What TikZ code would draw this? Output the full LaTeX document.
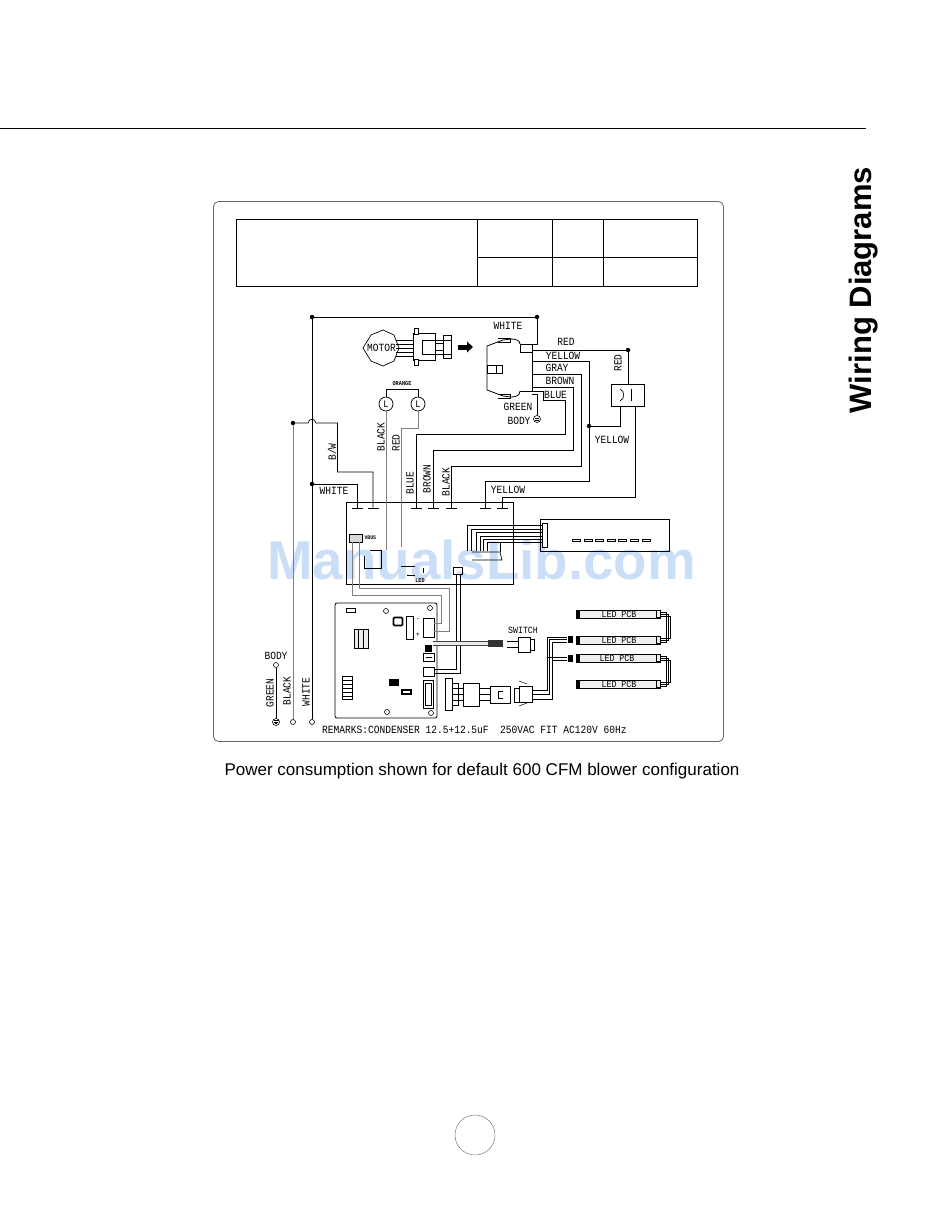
\documentclass[tikz,border=0pt]{standalone}
\usepackage{fontspec}
\setmainfont{Liberation Sans}
\setmonofont[FakeStretch=0.87]{Liberation Mono}
\usetikzlibrary{positioning}
\definecolor{markblue}{HTML}{CBDEF7}
\tikzset{
  wire/.style={line width=0.7pt,black},
  greywire/.style={line width=0.8pt,black!50},
  part/.style={draw=black,line width=0.7pt,fill=white,inner sep=0pt},
  term/.style={fill=black,inner sep=0pt,minimum width=11pt,minimum height=1.5pt},
  joint/.style={circle,fill=black,inner sep=0pt,minimum size=4.5pt},
  ring/.style={circle,draw=black,fill=white,line width=0.6pt,inner sep=0pt,minimum size=5pt},
  lamp/.style={circle,draw=black,fill=white,line width=0.7pt,inner sep=0pt,minimum size=14pt,font=\ttfamily\fontsize{10}{10}\selectfont},
  lbl/.style={font=\ttfamily\fontsize{11}{11}\selectfont,inner sep=0pt},
  vlbl/.style={lbl,rotate=90},
  small/.style={font=\ttfamily\fontsize{9.5}{10}\selectfont,inner sep=0pt},
  tiny/.style={font=\ttfamily\bfseries\fontsize{6}{6}\selectfont,inner sep=0pt}
}

\begin{document}
\begin{tikzpicture}[x=1pt,y=-1pt]
  \useasboundingbox (0,0) rectangle (950,1229);
  % page furniture
  \draw[line width=0.8pt] (0,128) -- (866,128);
  \node[rotate=90,font=\bfseries\fontsize{31}{31}\selectfont,inner sep=0pt] (heading) at (863.5,290) {Wiring Diagrams};
  \node[font=\fontsize{17}{18}\selectfont,inner sep=0pt] (caption) at (482,771.5) {Power consumption shown for default 600 CFM blower configuration};
  \node[circle,draw=black!60,minimum size=40pt,inner sep=0pt] (pageno) at (475,1135) {};
  \node[font=\bfseries\fontsize{54.7}{56}\selectfont,text=markblue,inner sep=0pt] (mark) at (481.5,560) {ManualsLib.com};
  \draw[black!60,line width=0.8pt,rounded corners=5pt] (213.5,201.5) rectangle (723.5,741.5);

  % title table
  \draw[line width=0.7pt] (236,219) rectangle (697,286);
  \draw[line width=0.7pt] (477,257) -- (697,257);
  \foreach \x in {477,552,603} {
    \draw[line width=0.7pt] (\x,219) -- (\x,286);
  }

  % main board and its terminals
  \draw[wire] (346,502) rectangle (513,584);
  \foreach \name/\x in {tWhite/357,tBW/373,tBlue/416,tBrown/433,tBlack/451,tYellowA/485,tYellowB/502} {
    \node[term] (\name) at (\x,508.5) {};
  }

  % joints and free ends
  \node[joint] (jTopL) at (312,317) {};
  \node[joint] (jTopR) at (537,317) {};
  \node[joint] (jWhite) at (312,484) {};
  \node[joint] (jBW) at (293,423) {};
  \node[joint] (jRed) at (628,350) {};
  \node[joint] (jYellow) at (589,426) {};
  \node[ring] (endWhite) at (312,722) {};
  \node[ring] (endBlack) at (293,722) {};
  \node[ring] (endBody) at (276,665) {};
  \node[ring,minimum size=7pt] (endEarth) at (276,722) {};
  \draw[line width=0.5pt] (273.5,720.5) -- (278.5,720.5) (274,722) -- (278,722) (275,723.5) -- (277,723.5);

  % motor
  \coordinate (motor) at (381.5,348);
  \draw[line width=0.7pt] (363,348) -- (371,335) -- (383,330) -- (394,335) -- (399,348) -- (394,361) -- (383,366) -- (371,361) -- cycle;
  \foreach \y in {340,344,348,352,356} {
    \draw[line width=0.6pt] (396,\y) -- (413,\y);
  }
  \node[lbl,fill=white,inner xsep=0.5pt] (motortxt) at (381.5,348) {MOTOR};
  \draw[part] (413,333) rectangle (435,360);
  \draw[part] (422,340) rectangle (435,354);
  \draw[part] (435,343) rectangle (443,350);
  \draw[part] (443,335) rectangle (451,358);
  \draw[line width=0.6pt] (435,340) -- (451,340) (435,354) -- (451,354);
  \draw[part] (414,328) rectangle (418,334) (414,359) rectangle (418,365);
  \fill (458,344.5) rectangle (467,349.5);
  \fill (467,341.5) -- (473,347) -- (467,352.5) -- cycle;

  % fan connector
  \draw[line width=0.8pt] (520,344) .. controls (520,340) and (515,339) .. (511,339) -- (503,340) -- (487,346) -- (487,390) -- (503,396) -- (511,397) .. controls (515,397) and (520,396) .. (520,391);
  \draw[line width=0.6pt] (498,338) -- (510,338) -- (510,342) -- (498,342) (498,398) -- (510,398) -- (510,394) -- (498,394);
  \draw[part] (487,365) rectangle (496,373);
  \draw[part] (496,365) rectangle (502,373);
  \draw[part] (520,344) rectangle (532,352);
  \draw[line width=0.8pt] (532,352) -- (532,391) (520,391) -- (532,391);
  \node[ring,minimum size=7pt] (earthFan) at (537,419) {};
  \draw[line width=0.5pt] (535,418) -- (539,418) (535,420) -- (539,420);

  % lamps
  \node[lamp] (lampL) at (386,404) {L};
  \node[lamp] (lampR) at (418,404) {L};
  \draw[wire] (lampL.north) -- (386,389) -- (418,389) -- (lampR.north);
  \node[tiny] (orange) at (402,384) {ORANGE};

  % capacitor
  \node[part,minimum width=33pt,minimum height=22pt] (cap) at (627.5,395) {};
  \draw[line width=0.7pt] (620,389) .. controls (625,391) and (625,399) .. (620,401);
  \draw[line width=0.8pt] (631,389) -- (631,401);

  % wiring above the board
  \draw[wire] (jTopL) -- (jTopR);
  \draw[wire] (jTopL) -- (endWhite);
  \draw[wire] (jTopR) -- (537,344) -- (532,344);
  \draw[wire] (jWhite) -- (357,484) -- (tWhite.north);
  \draw[greywire] (jBW) -- (endBlack);
  \draw[wire] (jBW) -- (308,423) .. controls (309,418) and (315,418) .. (316,423) -- (337.5,423) -- (337.5,472) -- (373,472) -- (tBW.north);
  \draw[wire] (532,350) -- (jRed);
  \draw[wire] (jRed) -- (cap.north -| jRed);
  \draw[wire] (532,361) -- (589,361) -- (jYellow);
  \draw[wire] (jYellow) -- (589,481) -- (485,481) -- (tYellowA.north);
  \draw[wire] (jYellow) -- (620,426) -- (620,406);
  \draw[wire] (635,406) -- (635,497) -- (502,497) -- (tYellowB.north);
  \draw[wire] (532,374) -- (581,374) -- (581,466) -- (451,466) -- (tBlack.north);
  \draw[wire] (532,387) -- (573,387) -- (573,450) -- (433,450) -- (tBrown.north);
  \draw[wire] (532,391) -- (543,391) -- (543,400) -- (565,400) -- (565,434) -- (416,434) -- (tBlue.north);
  \draw[wire] (532,394) -- (537,394) -- (earthFan.north);
  \draw[greywire] (lampL.south) -- (386,550);
  \draw[greywire] (lampR.south) -- (418,428) -- (401,428) -- (401,547);
  \draw[wire] (endBody) -- (endEarth);

  % inside the board
  \node[part,minimum width=13pt,minimum height=8pt,fill=black!15] (vbus) at (355.5,538) {};
  \node[tiny,font=\ttfamily\bfseries\fontsize{5.5}{6}\selectfont,right=2pt of vbus] (vbustxt) {VBUS};
  \draw[wire] (370,550) -- (381,550) -- (381,568) -- (364,568) (364,556) -- (364,568);
  \draw[wire] (401,566) -- (415,566) (407,575) -- (415,575) (423,568) -- (423,573);
  \node[tiny] (ledtxt) at (420,581) {LED};
  \node[part,minimum width=9pt,minimum height=7pt,fill=none] (ledplug) at (457.5,571) {};

  % ribbon to the display
  \draw[wire] (540.5,551.5) -- (540.5,519) -- (669,519) -- (669,551.5) -- (540.5,551.5);
  \node[part,minimum width=5pt,minimum height=24pt] (bar) at (545,535) {};
  \foreach \x/\y in {467/525,471.5/529,476/532,480/536,483/539,487/542} {
    \draw[line width=0.7pt] (bar.west |- 0,\y) -- (\x,\y) -- (\x,551);
  }
  \draw[wire] (472,552) -- (500,552) -- (502,560) -- (472,560);
  \draw[line width=0.7pt] (500,542) -- (500,552);
  \foreach \x in {572,584,595,607,618,630,642} {
    \draw[line width=0.9pt] (\x,539) rectangle +(8,2);
  }

  % control board
  \draw[line width=0.8pt,rounded corners=2pt,fill=white] (335,603) rectangle (437,718);
  \node[ring] (holeA) at (386,611) {};
  \node[ring] (holeB) at (430,608) {};
  \node[ring] (holeC) at (387,712) {};
  \node[ring] (holeD) at (431,713) {};
  \draw[part] (346,608) rectangle (355,612);
  \draw[part,fill=black!8] (354,629) rectangle (368,648);
  \draw[line width=0.8pt] (358,629) -- (358,648) (363,629) -- (363,648);
  \draw[part,line width=1.6pt,rounded corners=1pt] (393.5,617.5) rectangle (402.5,625.5);
  \draw[part] (406,616) rectangle (413,639);
  \node[tiny] (cminus) at (418,620) {-};
  \node[tiny] (cplus) at (418,635) {+};
  \node[part,minimum width=11pt,minimum height=19pt] (plugA) at (428.5,627.5) {};
  \node[part,minimum width=11pt,minimum height=9pt] (plugB) at (428.5,671.5) {};
  \node[part,minimum width=10pt,minimum height=28pt] (plugC) at (428,694) {};
  \draw[line width=0.5pt] (425,683) rectangle (431,705);
  \node[part,minimum width=11pt,minimum height=8pt,line width=1pt] (plugD) at (428.5,657) {};
  \draw[line width=0.7pt] (425.5,657) -- (431.5,657);
  \node[fill=black,minimum width=7pt,minimum height=7pt,inner sep=0pt] (plugE) at (428.5,648) {};
  \draw[part,line width=1pt] (342,676) rectangle (352,699);
  \foreach \y in {680,684,688,692,696} {
    \draw[line width=0.5pt] (342,\y) -- (352,\y);
  }
  \fill (389,679) rectangle (399,686);
  \draw[part,line width=1.2pt] (402,690) rectangle (411,694);

  % wires from the main board to the control board
  \draw[greywire] (352,542) -- (352,595) -- (441.5,595) -- (441.5,623) -- (plugA.east |- 0,623);
  \draw[greywire] (359,542) -- (359,588) -- (449,588) -- (449,631) -- (plugA.east |- 0,631);
  \draw[wire] (456.5,575) -- (456.5,669) -- (plugB.east |- 0,669);
  \draw[wire] (460,575) -- (460,673) -- (plugB.east |- 0,673);

  % switch
  \draw[line width=5pt,black!75] (433,643.5) -- (488,643.5);
  \draw[line width=3.4pt,black!8] (433,643.5) -- (488,643.5);
  \node[fill=black!80,minimum width=15pt,minimum height=7pt,inner sep=0pt] (swplug) at (495.5,643.5) {};
  \node[part,minimum width=12pt,minimum height=15pt] (switch) at (524,644.5) {};
  \draw[line width=0.7pt] (507,641) -- (518,641) (507,647) -- (518,647);
  \draw[part] (530,639) rectangle (534,650);
  \node[small] (swtxt) at (523,630) {SWITCH};

  % LED strips
  \foreach \name/\y/\x in {ledA/614/624,ledB/640/624,ledC/658/622,ledD/684/624} {
    \node[draw,line width=0.8pt,fill=black!6,minimum width=84pt,minimum height=8pt,inner sep=0pt] (\name) at (618,\y) {};
    \node[small] at (\x-5,\y) {LED PCB};
    \fill (576,\y-4) rectangle (580,\y+4);
    \draw[line width=1pt] (656,\y-3.5) rectangle (660,\y+3.5);
  }
  \foreach \d in {0,2,4} {
    \draw[line width=0.6pt] (ledA.east |- 0,612+\d) -- (666+\d,612+\d) -- (666+\d,642-\d) -- (ledB.east |- 0,642-\d);
    \draw[line width=0.6pt] (ledC.east |- 0,656+\d) -- (666+\d,656+\d) -- (666+\d,686-\d) -- (ledD.east |- 0,686-\d);
  }

  % lower plug chain
  \draw[part] (445,678) rectangle (452,710);
  \draw[part] (452,683) rectangle (458,705);
  \foreach \y in {688,694,700} {
    \draw[line width=0.6pt] (452,\y) -- (463,\y);
  }
  \node[part,minimum width=16pt,minimum height=23pt] (cond) at (471,694.5) {};
  \foreach \y in {688,694,700} {
    \draw[line width=0.6pt] (cond.east |- 0,\y) -- (490,\y);
  }
  \draw[part] (490,686) rectangle (510,703);
  \draw[line width=0.7pt] (503,691) -- (498,691) -- (498,698) -- (503,698);
  \draw[part] (514,688) rectangle (519,702);
  \draw[part] (519,686) rectangle (532,702);
  \draw[line width=0.5pt] (519,681) -- (527,684) (519,706) -- (527,703);
  \node[fill=black,minimum width=5pt,minimum height=7pt,inner sep=0pt] (ledplugA) at (570,639) {};
  \node[fill=black,minimum width=5pt,minimum height=7pt,inner sep=0pt] (ledplugB) at (570,658) {};
  \draw[line width=0.7pt] (532,690) -- (547,690) -- (547,637) -- (ledplugA.west |- 0,637);
  \draw[line width=0.7pt] (532,694) -- (549,694) -- (549,639) -- (ledplugA);
  \draw[line width=0.7pt] (532,699) -- (552,699) -- (552,642) -- (ledplugA.west |- 0,642);
  \draw[line width=1pt] (547,657) -- (ledplugB.west |- 0,657);
  \draw[line width=1pt] (552,660) -- (ledplugB.west |- 0,660);

  % labels
  \node[lbl] (lWhiteTop) at (508,326) {WHITE};
  \node[lbl] (lRedTop) at (566,342) {RED};
  \node[lbl] (lYellowTop) at (563,356) {YELLOW};
  \node[lbl] (lGray) at (557,368) {GRAY};
  \node[lbl] (lBrownTop) at (560,381) {BROWN};
  \node[lbl] (lBlueTop) at (555.5,395) {BLUE};
  \node[lbl] (lGreenFan) at (518,407) {GREEN};
  \node[lbl] (lBodyFan) at (519,421) {BODY};
  \node[lbl] (lYellowCap) at (612,440) {YELLOW};
  \node[vlbl] (lRedCap) at (618,363) {RED};
  \node[vlbl] (lBW) at (332,452) {B/W};
  \node[vlbl] (lBlackL) at (381,437) {BLACK};
  \node[vlbl] (lRedL) at (396,443) {RED};
  \node[vlbl] (lBlue) at (410,483) {BLUE};
  \node[vlbl] (lBrown) at (427,479) {BROWN};
  \node[vlbl] (lBlack) at (446,482) {BLACK};
  \node[lbl] (lWhite) at (334,491) {WHITE};
  \node[lbl] (lYellow) at (508,490) {YELLOW};
  \node[lbl] (lBody) at (276,656) {BODY};
  \node[vlbl] (lGreen) at (270,693) {GREEN};
  \node[vlbl] (lBlackEnd) at (287,691) {BLACK};
  \node[vlbl] (lWhiteEnd) at (306,692) {WHITE};
  \node[lbl,anchor=west] (remarks) at (322,730) {REMARKS:CONDENSER 12.5+12.5uF\ \ 250VAC FIT AC120V 60Hz};
\end{tikzpicture}
\end{document}
